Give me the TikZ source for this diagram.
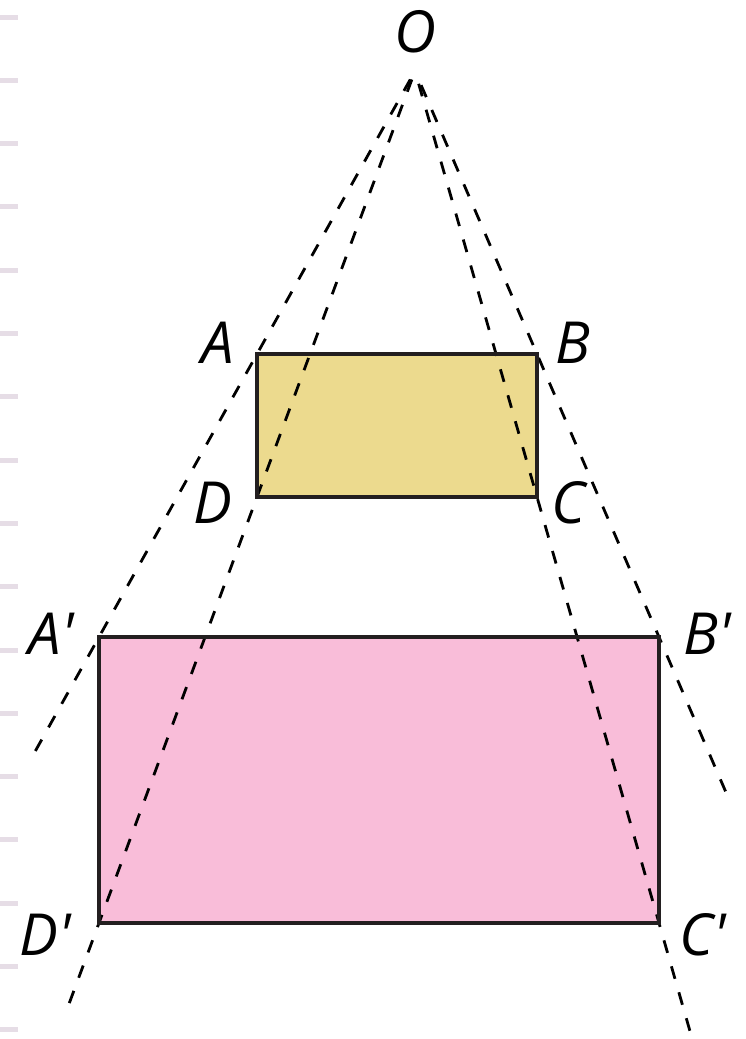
\documentclass[tikz,border=0pt]{standalone}
\usepackage{fontspec}
\newfontfamily\labfont{Open Sans}[Ligatures=TeXOff]
\usetikzlibrary{calc}
\definecolor{smallfill}{HTML}{ECDA8E}
\definecolor{bigfill}{HTML}{F9BDD9}
\definecolor{edge}{HTML}{231F20}
\definecolor{tickc}{HTML}{E6DDE6}
\tikzset{
  lab/.style={anchor=base, inner sep=0pt, font=\labfont\itshape\fontsize{29}{29}\selectfont},
  ray/.style={draw=black, line width=1.4pt, dash pattern=on 6.5pt off 7pt},
  rectedge/.style={draw=edge, line width=2pt, line join=miter},
  margintick/.style={draw=tickc, line width=2.5pt}
}
\begin{document}
\begin{tikzpicture}[x=0.5pt,y=-0.5pt]
\useasboundingbox (0,0) rectangle (745,1039);
% margin ticks
\foreach \k in {0,...,16}{
  \draw[margintick] (0,{17+63.3*\k}) -- (18,{17+63.3*\k});
}
% points
\coordinate (O) at (415,71);
\coordinate (A) at (257,354);
\coordinate (B) at (537,354);
\coordinate (C) at (537,497);
\coordinate (D) at (257,497);
\coordinate (A2) at (99,637);
\coordinate (B2) at (659,637);
\coordinate (C2) at (659,923);
\coordinate (D2) at (99,923);
% fills
\fill[smallfill] (A) rectangle (C);
\fill[bigfill] (A2) rectangle (C2);
% rays
\coordinate (rA) at ($(O)!2.44!(A)$);
\coordinate (rD) at ($(O)!2.216!(D)$);
\coordinate (rB) at ($(O)!2.59!(B)$);
\coordinate (rC) at ($(O)!2.27!(C)$);
\draw[ray] ($(O)!0.03!(A)$) -- (rA);
\draw[ray] ($(O)!0.02!(D)$) -- (rD);
\draw[ray] ($(O)!0.05!(B)$) -- (rB);
\draw[ray] ($(O)!0.03!(C)$) -- (rC);
% borders
\draw[rectedge] (A) -- (B) -- (C) -- (D) -- cycle;
\draw[rectedge] (A2) -- (B2) -- (C2) -- (D2) -- cycle;
% labels
\node[lab] (lO) at (415,52) {O};
\node[lab] (lA) at (218,363) {A};
\node[lab] (lB) at (573,363) {B};
\node[lab] (lD) at (213,523) {D};
\node[lab] (lC) at (569,523) {C};
\node[lab] (lA2) at (51,654) {A'};
\node[lab] (lB2) at (707,654) {B'};
\node[lab] (lD2) at (45,955) {D'};
\node[lab] (lC2) at (703,955) {C'};
\end{tikzpicture}
\end{document}
